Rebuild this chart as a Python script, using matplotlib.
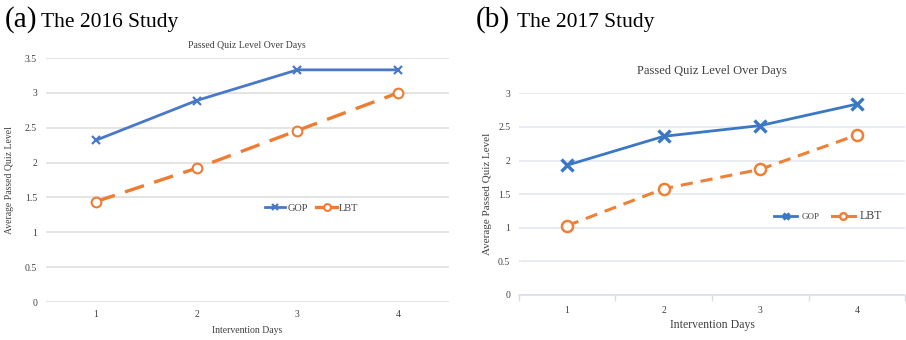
import matplotlib.pyplot as plt
from matplotlib.ticker import FixedLocator, NullFormatter
from matplotlib.legend_handler import HandlerLine2D

plt.rcParams['font.family'] = ['Liberation Serif', 'DejaVu Serif']

days = ["1", "2", "3", "4"]

# 2016 study
gop_2016 = [2.32, 2.89, 3.33, 3.33]
lbt_2016 = [1.44, 1.92, 2.46, 3.00]
yticks_2016 = [0, 0.5, 1, 1.5, 2, 2.5, 3, 3.5]
ytick_labels_2016 = ["0", "0.5", "1", "1.5", "2", "2.5", "3", "3.5"]

# 2017 study
gop_2017 = [1.93, 2.36, 2.52, 2.84]
lbt_2017 = [1.03, 1.58, 1.87, 2.38]
yticks_2017 = [0, 0.5, 1, 1.5, 2, 2.5, 3]
ytick_labels_2017 = ["0", "0.5", "1", "1.5", "2", "2.5", "3"]

BLUE_A = "#4a78c9"
ORANGE_A = "#ee7d33"
BLUE_B = "#3a78c6"
ORANGE_B = "#ef8038"
TEXT = "#404040"

fig = plt.figure(figsize=(9.06, 3.4), dpi=100)

W, H = 906.0, 340.0


def px_axes(left, right, top, bottom):
    return fig.add_axes([left / W, 1 - bottom / H, (right - left) / W, (bottom - top) / H])


def solid_legend_line(legline, orig):
    legline.update_from(orig)
    legline.set_linestyle("-")


solid_handler = HandlerLine2D(update_func=solid_legend_line)

xs = list(range(len(days)))

# ---------- panel (a) ----------
ax1 = px_axes(45.5, 448.5, 58, 302)
g1, = ax1.plot(xs, gop_2016, color=BLUE_A, lw=2.0, marker="x", ms=6, mew=1.6,
               label="GOP", zorder=3)
l1, = ax1.plot(xs, lbt_2016, color=ORANGE_A, lw=2.4, marker="o", ms=7, mew=1.5,
               mfc="white", dashes=(6, 3.2), label="LBT", zorder=3)
ax1.set_xlim(-0.5, 3.5)
ax1.set_ylim(0, 3.5)
ax1.set_yticks(yticks_2016)
ax1.set_yticklabels(ytick_labels_2016)
ax1.set_xticks(xs)
ax1.set_xticklabels(days)
ax1.grid(axis="y", color="#dcdcdc", lw=1.1)
ax1.set_axisbelow(True)
for s in ax1.spines.values():
    s.set_visible(False)
ax1.tick_params(axis="both", length=0, labelsize=7, colors=TEXT, pad=6)
ax1.tick_params(axis="x", pad=6)
ax1.set_title("Passed Quiz Level Over Days", fontsize=7, color=TEXT, pad=7)
ax1.set_xlabel("Intervention Days", fontsize=7, color=TEXT, labelpad=5)
ax1.set_ylabel("Average Passed Quiz Level", fontsize=7, color=TEXT)
ax1.yaxis.set_label_coords(-0.078, 0.5)
leg1 = ax1.legend(loc="center", bbox_to_anchor=(0.66, 0.385), ncol=2, frameon=False,
                  fontsize=7.5, handlelength=2.0, columnspacing=0.8, handletextpad=0.2,
                  markerscale=0.7, labelcolor=TEXT,
                  handler_map={l1: solid_handler, g1: solid_handler})

# ---------- panel (b) ----------
ax2 = px_axes(518.6, 905.4, 93.3, 295)
g2, = ax2.plot(xs, gop_2017, color=BLUE_B, lw=2.0, marker="x", ms=8, mew=2.4,
               label="GOP", zorder=3)
l2, = ax2.plot(xs, lbt_2017, color=ORANGE_B, lw=2.2, marker="o", ms=8, mew=1.8,
               mfc="white", dashes=(4, 2.6), label="LBT", zorder=3)
ax2.set_xlim(-0.5, 3.5)
ax2.set_ylim(0, 3)
ax2.set_yticks(yticks_2017)
ax2.set_yticklabels(ytick_labels_2017)
ax2.set_xticks(xs)
ax2.set_xticklabels(days)
ax2.xaxis.set_minor_locator(FixedLocator([-0.5, 0.5, 1.5, 2.5, 3.5]))
ax2.xaxis.set_minor_formatter(NullFormatter())
ax2.grid(axis="y", color="#e1e6ee", lw=1.1)
ax2.set_axisbelow(True)
for name, s in ax2.spines.items():
    s.set_visible(name == "bottom")
ax2.spines["bottom"].set_color("#d8dde6")
ax2.spines["bottom"].set_linewidth(1.1)
ax2.tick_params(axis="both", which="major", length=0, labelsize=7, colors=TEXT, pad=6)
ax2.tick_params(axis="x", which="major", pad=8)
ax2.tick_params(axis="x", which="minor", length=4, width=1, color="#d8dde6")
ax2.set_title("Passed Quiz Level Over Days", fontsize=9, color=TEXT, pad=14)
ax2.set_xlabel("Intervention Days", fontsize=8.5, color=TEXT, labelpad=3)
ax2.set_ylabel("Average Passed Quiz Level", fontsize=8, color=TEXT)
ax2.yaxis.set_label_coords(-0.07, 0.5)
leg2 = ax2.legend(loc="center", bbox_to_anchor=(0.8, 0.39), ncol=2, frameon=False,
                  fontsize=6.5, handlelength=2.6, columnspacing=1.3, handletextpad=0.5,
                  markerscale=0.6, labelcolor=TEXT,
                  handler_map={l2: solid_handler, g2: solid_handler})
leg2.get_texts()[1].set_fontsize(8.5)

# ---------- panel headings ----------
fig.text(5 / W, 1 - 27 / H, "(a)", fontsize=21, color="black", va="baseline")
fig.text(41 / W, 1 - 27 / H, "The 2016 Study", fontsize=15.5, color="black", va="baseline")
fig.text(476 / W, 1 - 27 / H, "(b)", fontsize=21, color="black", va="baseline")
fig.text(517 / W, 1 - 27 / H, "The 2017 Study", fontsize=15.5, color="black", va="baseline")

fig.savefig("out.png", dpi=100, facecolor="white")
